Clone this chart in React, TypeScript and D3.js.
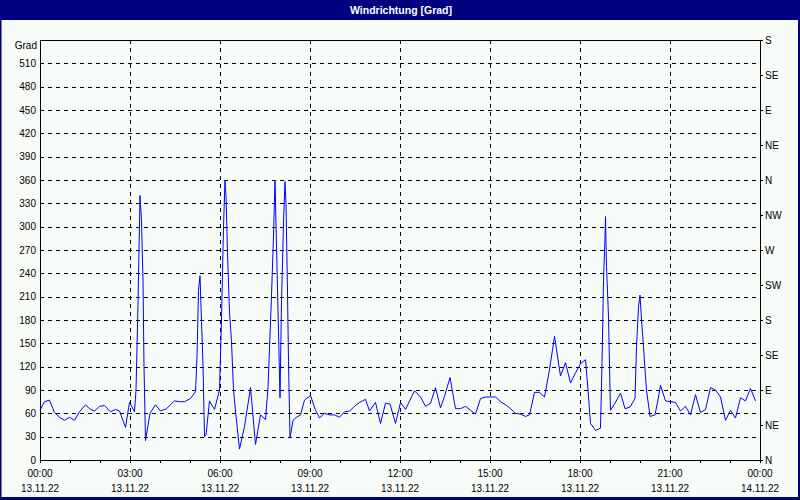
import React from "react";
import * as d3 from "d3";

// time in minutes since 13.11.22 00:00
const times = [0, 9, 19, 29, 39, 49, 59, 69, 79, 91, 99, 109, 119, 129, 141, 151, 159, 171, 179, 189, 192, 196, 200, 203, 206, 208, 211, 220, 231, 241, 253, 269, 279, 289, 301, 311, 314, 317, 320, 323, 326, 329, 332, 339, 349, 359, 363, 367, 370, 372, 375, 379, 383, 387, 391, 399, 409, 421, 431, 441, 451, 456, 459, 463, 467, 470, 473, 477, 480, 483, 487, 490, 492, 495, 497, 500, 506, 513, 521, 529, 541, 551, 559, 569, 579, 589, 599, 609, 619, 631, 639, 651, 659, 671, 681, 691, 700, 711, 721, 731, 740, 749, 761, 771, 781, 791, 801, 809, 820, 831, 841, 851, 861, 871, 881, 891, 903, 911, 921, 931, 941, 951, 961, 971, 979, 989, 999, 1009, 1019, 1029, 1041, 1051, 1061, 1071, 1081, 1091, 1096, 1101, 1111, 1121, 1124, 1127, 1130, 1131, 1133, 1137, 1140, 1141, 1150, 1161, 1170, 1180, 1190, 1193, 1197, 1200, 1203, 1207, 1210, 1213, 1220, 1230, 1237, 1241, 1251, 1261, 1271, 1281, 1291, 1301, 1311, 1321, 1331, 1341, 1351, 1361, 1371, 1381, 1391, 1401, 1411, 1421, 1431];
const values = [64, 75, 77, 61, 55, 51, 55, 51, 62, 71, 66, 63, 69, 70, 62, 65, 63, 42, 74, 62, 90, 200, 340, 308, 230, 120, 25, 60, 71, 63, 66, 76, 75, 75, 79, 88, 133, 218, 237, 178, 122, 30, 32, 76, 65, 90, 180, 300, 360, 340, 267, 190, 152, 90, 63, 14, 43, 93, 20, 58, 52, 93, 143, 211, 288, 360, 275, 165, 80, 203, 305, 358, 330, 216, 127, 28, 51, 55, 58, 77, 83, 64, 54, 60, 58, 58, 55, 62, 63, 70, 74, 78, 63, 74, 47, 73, 72, 47, 74, 65, 77, 89, 81, 69, 73, 93, 67, 82, 106, 66, 66, 69, 64, 59, 79, 81, 81, 81, 75, 71, 66, 60, 59, 56, 58, 87, 87, 81, 116, 159, 108, 125, 99, 112, 124, 129, 90, 47, 38, 41, 124, 231, 287, 313, 249, 184, 90, 64, 73, 86, 66, 68, 79, 146, 197, 212, 180, 146, 116, 90, 56, 58, 81, 96, 76, 75, 74, 63, 69, 58, 84, 61, 65, 93, 90, 81, 51, 64, 54, 80, 76, 92, 76];

const yTicks = [0, 30, 60, 90, 120, 150, 180, 210, 240, 270, 300, 330, 360, 390, 420, 450, 480, 510];
const compassValues = [0, 45, 90, 135, 180, 225, 270, 315, 360, 405, 450, 495, 540];
const compassLabels = ["N", "NE", "E", "SE", "S", "SW", "W", "NW", "N", "NE", "E", "SE", "S"];
const xTickMinutes = [0, 180, 360, 540, 720, 900, 1080, 1260, 1440];
const xTimeLabels = ["00:00", "03:00", "06:00", "09:00", "12:00", "15:00", "18:00", "21:00", "00:00"];
const xDateLabels = ["13.11.22", "13.11.22", "13.11.22", "13.11.22", "13.11.22", "13.11.22", "13.11.22", "13.11.22", "14.11.22"];
const title = "Windrichtung [Grad]";
const yUnit = "Grad";

export default function App() {
  const W = 800, H = 500;
  const L = 40, R = 760, T = 40, B = 460;
  const x = d3.scaleLinear().domain([0, 1440]).range([L, R]);
  const y = d3.scaleLinear().domain([0, 540]).range([B, T]);
  const pts: [number, number][] = times.map((t, i) => [t, values[i]]);
  const line = d3.line<[number, number]>().x(d => x(d[0])).y(d => y(d[1]));
  const hourTicks = d3.range(0, 1441, 60);
  const font = "'Liberation Sans', Arial, sans-serif";
  const navy = "#000080";
  return (
    <svg width={W} height={H} style={{ position: "absolute", left: 0, top: 0 }} fontFamily={font}>
      <rect x={0} y={0} width={W} height={H} fill="#F8FCF8" />
      <rect x={0} y={0} width={W} height={20} fill={navy} />
      <rect x={0} y={0} width={1.5} height={H} fill={navy} />
      <rect x={W - 2} y={0} width={2} height={H} fill={navy} />
      <rect x={0} y={H - 3} width={W} height={3} fill={navy} />
      <text x={401} y={14} textAnchor="middle" fill="#fff" fontWeight="bold" fontSize={10.5}>{title}</text>

      {yTicks.filter(v => v > 0).map(v => (
        <line key={"h" + v} x1={L} x2={R} y1={Math.round(y(v)) + 0.5} y2={Math.round(y(v)) + 0.5}
          stroke="#000" strokeWidth={1} strokeDasharray="4,4" />
      ))}
      {xTickMinutes.slice(1, -1).map(t => (
        <line key={"v" + t} x1={x(t) + 0.5} x2={x(t) + 0.5} y1={T} y2={B}
          stroke="#000" strokeWidth={1} strokeDasharray="4,4" />
      ))}

      <path d={line(pts) || ""} fill="none" stroke="#0000FF" strokeWidth={1} />

      <rect x={L + 0.5} y={T + 0.5} width={R - L} height={B - T} fill="none" stroke="#000" strokeWidth={1} />

      {hourTicks.map(t => (
        <line key={"m" + t} x1={x(t) + 0.5} x2={x(t) + 0.5} y1={B} y2={B + 3} stroke="#000" />
      ))}
      {compassValues.map(v => (
        <line key={"c" + v} x1={R} x2={R + 3} y1={Math.round(y(v)) + 0.5} y2={Math.round(y(v)) + 0.5} stroke="#000" />
      ))}

      {yTicks.map(v => (
        <text key={"yl" + v} x={36} y={y(v)} dy="0.35em" textAnchor="end" fontSize={10} fill="#000">{v}</text>
      ))}
      <text x={37} y={45} dy="0.35em" textAnchor="end" fontSize={10} fill="#000">{yUnit}</text>

      {compassValues.map((v, i) => (
        <text key={"cl" + v} x={765} y={y(v)} dy="0.35em" textAnchor="start" fontSize={10} fill="#000">{compassLabels[i]}</text>
      ))}

      {xTickMinutes.map((t, i) => (
        <g key={"xl" + t}>
          <text x={x(t)} y={477} textAnchor="middle" fontSize={10} fill="#000">{xTimeLabels[i]}</text>
          <text x={x(t)} y={492} textAnchor="middle" fontSize={10} fill="#000">{xDateLabels[i]}</text>
        </g>
      ))}
    </svg>
  );
}
